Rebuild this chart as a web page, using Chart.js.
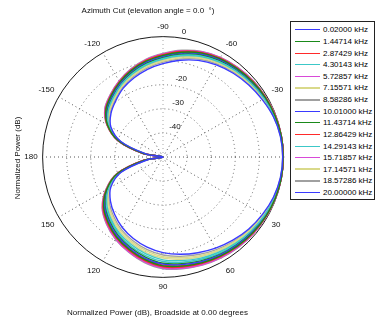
<!DOCTYPE html>
<html>
<head>
<meta charset="utf-8">
<script src="https://cdn.jsdelivr.net/npm/chart.js@4.4.1/dist/chart.umd.min.js"></script>
<style>
  html, body { margin: 0; padding: 0; background: #fff; }
  #wrap { position: relative; width: 375px; height: 324px; }
  #legend {
    position: absolute; left: 290px; top: 21px; width: 85px; height: 179px;
    box-sizing: border-box; border: 1px solid #222; background: #fff; padding-top: 2px;
    font: 8px "Liberation Sans", Arial, sans-serif; color: #000;
  }
  #legend .item { display: flex; align-items: center; height: 11.64px; }
  #legend .swatch { display: inline-block; width: 25px; margin-left: 4px; margin-right: 3px; }
</style>
</head>
<body>
<div id="wrap">
  <canvas id="polarChart" width="375" height="324"></canvas>
  <div id="legend"></div>
</div>
<script>
// azimuth angles (deg), clockwise starting at the top of the plot
const angles = [-90, -80, -70, -60, -50, -40, -30, -20, -10, 0, 10, 20, 30, 40, 50, 60, 70, 80, 90,
  100, 110, 120, 130, 140, 150, 160, 170, 180, -170, -160, -150, -140, -130, -120, -110, -100];

const ringTicks = [0, -10, -20, -30, -40];

const freqLabels = ['0.02000 kHz', '1.44714 kHz', '2.87429 kHz', '4.30143 kHz', '5.72857 kHz',
  '7.15571 kHz', '8.58286 kHz', '10.01000 kHz', '11.43714 kHz', '12.86429 kHz',
  '14.29143 kHz', '15.71857 kHz', '17.14571 kHz', '18.57286 kHz', '20.00000 kHz'];

// normalized power (dB) per frequency, same order as angles
const k0_02000 = [-11.2, -9.2, -7.3, -5.8, -4.6, -3.5, -2.4, -1.2, -0.5, -0.3, -0.5, -1.2, -2.3, -3.5, -4.9, -6.3, -7.7, -9.0, -10.3,
  -12.0, -14.0, -16.2, -18.8, -21.5, -25.0, -31.5, -43.5, -50, -43.0, -31.5, -25.0, -21.8, -19.5, -17.0, -15.0, -13.0];
const k1_44714 = [-7.8, -5.8, -4.0, -2.8, -2.1, -1.4, -0.8, -0.4, -0.1, -0.1, -0.1, -0.3, -0.7, -1.2, -1.8, -2.5, -3.2, -4.0, -4.8,
  -6.7, -9.1, -11.5, -14.5, -17.8, -23.0, -29.9, -41.9, -50, -41.8, -30.3, -23.4, -19.1, -16.6, -14.1, -11.7, -9.6];
const k2_87429 = [-7.5, -5.5, -3.8, -2.6, -1.9, -1.2, -0.7, -0.3, -0.1, 0, -0.1, -0.3, -0.6, -1.0, -1.6, -2.2, -2.9, -3.6, -4.4,
  -6.3, -8.7, -11.2, -14.1, -17.5, -22.8, -29.7, -41.7, -50, -41.7, -30.2, -23.2, -18.9, -16.4, -13.9, -11.5, -9.3];
const k4_30143 = [-9.3, -7.3, -5.5, -4.2, -3.2, -2.3, -1.5, -0.8, -0.3, -0.2, -0.3, -0.7, -1.4, -2.2, -3.2, -4.2, -5.2, -6.3, -7.3,
  -9.1, -11.3, -13.6, -16.4, -19.5, -23.9, -30.6, -42.6, -50, -42.3, -30.8, -24.1, -20.3, -17.9, -15.4, -13.2, -11.1];
const k5_72857 = [-7.2, -5.2, -3.5, -2.3, -1.6, -1.0, -0.6, -0.2, -0.1, 0, -0.1, -0.2, -0.5, -0.8, -1.3, -1.8, -2.4, -3.1, -3.9,
  -5.8, -8.2, -10.7, -13.7, -17.2, -22.6, -29.6, -41.6, -50, -41.6, -30.1, -23.1, -18.6, -16.1, -13.6, -11.2, -9.0];
const k7_15571 = [-9.7, -7.7, -5.9, -4.5, -3.5, -2.6, -1.7, -0.9, -0.3, -0.2, -0.3, -0.8, -1.6, -2.5, -3.6, -4.7, -5.8, -6.9, -8.0,
  -9.7, -11.9, -14.2, -16.9, -19.9, -24.1, -30.8, -42.8, -50, -42.5, -31.0, -24.3, -20.6, -18.3, -15.8, -13.6, -11.5];
const k8_58286 = [-7.0, -5.0, -3.3, -2.2, -1.5, -0.9, -0.5, -0.2, -0.1, 0, -0.1, -0.2, -0.4, -0.7, -1.1, -1.6, -2.2, -2.9, -3.6,
  -5.5, -8.0, -10.5, -13.5, -17.0, -22.5, -29.5, -41.5, -50, -41.5, -30.0, -23.0, -18.5, -16.0, -13.5, -11.0, -8.8];
const k10_01000 = [-8.2, -6.2, -4.4, -3.2, -2.4, -1.6, -1.0, -0.5, -0.2, -0.1, -0.2, -0.4, -0.9, -1.5, -2.2, -2.9, -3.7, -4.6, -5.5,
  -7.3, -9.7, -12.1, -15.0, -18.3, -23.2, -30.1, -42.1, -50, -41.9, -30.4, -23.6, -19.4, -17.0, -14.5, -12.1, -10.0];
const k11_43714 = [-8.5, -6.5, -4.7, -3.5, -2.6, -1.8, -1.2, -0.6, -0.2, -0.1, -0.2, -0.5, -1.1, -1.7, -2.4, -3.2, -4.1, -5.0, -5.9,
  -7.8, -10.1, -12.5, -15.4, -18.6, -23.4, -30.2, -42.2, -50, -42.0, -30.5, -23.7, -19.7, -17.2, -14.7, -12.4, -10.3];
const k12_86429 = [-7.9, -5.9, -4.2, -3.0, -2.2, -1.5, -0.9, -0.4, -0.1, -0.1, -0.1, -0.4, -0.8, -1.3, -1.9, -2.6, -3.4, -4.2, -5.1,
  -6.9, -9.3, -11.8, -14.7, -18.0, -23.1, -29.9, -41.9, -50, -41.8, -30.3, -23.4, -19.2, -16.8, -14.3, -11.9, -9.7];
const k14_29143 = [-8.9, -6.9, -5.1, -3.8, -2.9, -2.1, -1.4, -0.7, -0.3, -0.1, -0.3, -0.6, -1.3, -2.0, -2.8, -3.7, -4.7, -5.6, -6.6,
  -8.4, -10.7, -13.1, -15.9, -19.0, -23.6, -30.4, -42.4, -50, -42.2, -30.7, -23.9, -20.0, -17.6, -15.1, -12.8, -10.7];
const k15_71857 = [-7.3, -5.3, -3.6, -2.5, -1.7, -1.1, -0.7, -0.3, -0.1, 0, -0.1, -0.2, -0.6, -0.9, -1.4, -2.0, -2.6, -3.4, -4.1,
  -6.0, -8.5, -11.0, -13.9, -17.4, -22.7, -29.7, -41.7, -50, -41.6, -30.1, -23.2, -18.8, -16.3, -13.8, -11.3, -9.1];
const k17_14571 = [-10.2, -8.2, -6.3, -4.9, -3.8, -2.9, -1.9, -1.0, -0.4, -0.2, -0.4, -0.9, -1.8, -2.8, -4.0, -5.1, -6.3, -7.5, -8.6,
  -10.4, -12.5, -14.8, -17.5, -20.4, -24.4, -31.0, -43.0, -50, -42.6, -31.1, -24.5, -21.0, -18.6, -16.1, -14.0, -12.0];
const k18_57286 = [-10.6, -8.6, -6.7, -5.3, -4.1, -3.1, -2.1, -1.1, -0.4, -0.3, -0.4, -1.0, -2.0, -3.1, -4.3, -5.6, -6.9, -8.1, -9.3,
  -11.0, -13.1, -15.3, -18.0, -20.8, -24.6, -31.2, -43.2, -50, -42.8, -31.3, -24.7, -21.3, -19.0, -16.5, -14.4, -12.4];
const k20_00000 = [-7.6, -5.6, -3.9, -2.7, -2.0, -1.3, -0.8, -0.4, -0.1, 0, -0.1, -0.3, -0.7, -1.1, -1.7, -2.3, -3.0, -3.8, -4.6,
  -6.5, -8.9, -11.4, -14.3, -17.7, -22.9, -29.8, -41.8, -50, -41.7, -30.2, -23.3, -19.0, -16.5, -14.0, -11.6, -9.4];

const seriesData = [k0_02000, k1_44714, k2_87429, k4_30143, k5_72857, k7_15571, k8_58286, k10_01000,
  k11_43714, k12_86429, k14_29143, k15_71857, k17_14571, k18_57286, k20_00000];

// MATLAB-like colour cycle: b g r c m y k
const lineColors = ['#3a3aff', '#1a8a1a', '#ff2a2a', '#3cc8c8', '#d84ad8', '#d9d98a', '#a0a0a0'];
const legendLineHeights = [1, 1, 1, 1, 1, 2, 2];

const FONT = '"Liberation Sans", Arial, sans-serif';

const htmlLegend = {
    id: 'htmlLegend',
    afterUpdate(chart) {
        const box = document.getElementById('legend');
        box.innerHTML = '';
        chart.data.datasets.forEach((ds, i) => {
            const row = document.createElement('div');
            row.className = 'item';
            const sw = document.createElement('span');
            sw.className = 'swatch';
            sw.style.background = ds.borderColor;
            sw.style.height = legendLineHeights[i % 7] + 'px';
            const txt = document.createElement('span');
            txt.textContent = ds.label;
            row.appendChild(sw);
            row.appendChild(txt);
            box.appendChild(row);
        });
    }
};

// ring labels plus axis texts, placed from the radial scale
const axisText = {
    id: 'axisText',
    beforeDatasetsDraw(chart) {
        const r = chart.scales.r;
        const ctx = chart.ctx;
        const R = r.drawingArea;
        ctx.save();
        ctx.font = '8px ' + FONT;
        ctx.fillStyle = '#111';

        ctx.textAlign = 'left';
        ctx.textBaseline = 'alphabetic';
        const a = 7.5 * Math.PI / 180;
        ringTicks.forEach(v => {
            const d = r.getDistanceFromCenterForValue(v);
            ctx.fillText(String(v), r.xCenter + d * Math.sin(a) + 3, r.yCenter - d * Math.cos(a) - 4);
        });

        ctx.textAlign = 'center';
        ctx.textBaseline = 'middle';
        ctx.fillText('Azimuth Cut (elevation angle = 0.0  \u00b0)', r.xCenter - 15, r.yCenter - R - 26);
        ctx.fillText('Normalized Power (dB), Broadside at 0.00 degrees', r.xCenter - 5.5, r.yCenter + R + 35.5);

        ctx.translate(r.xCenter - R - 24.5, r.yCenter + 1);
        ctx.rotate(-Math.PI / 2);
        ctx.fillText('Normalized Power (dB)', 0, 0);
        ctx.restore();
    }
};

const datasets = seriesData.map((d, i) => ({
    label: freqLabels[i],
    data: d,
    borderColor: lineColors[i % 7],
    borderWidth: 1.4,
    fill: false,
    pointRadius: 0,
    tension: 0.3
}));

new Chart(document.getElementById('polarChart').getContext('2d'), {
    type: 'radar',
    data: { labels: angles, datasets: datasets },
    options: {
        responsive: false,
        animation: false,
        devicePixelRatio: 1,
        layout: { padding: { left: 18, top: 23, right: 79, bottom: 31 } },
        plugins: {
            legend: { display: false },
            title: { display: false },
            tooltip: { enabled: false }
        },
        scales: {
            r: {
                min: -50,
                max: 0,
                startAngle: 0,
                ticks: { display: false, stepSize: 10 },
                grid: {
                    circular: true,
                    color: (c) => c.tick && c.tick.value === 0 ? '#1a1a1a' : '#666',
                    lineWidth: 1
                },
                border: {
                    dash: (c) => c.tick && c.tick.value === 0 ? [] : [1, 3]
                },
                angleLines: {
                    color: (c) => (angles[c.index] === -90 || angles[c.index] === 90) ? '#a8a8a8' : '#555',
                    lineWidth: (c) => angles[c.index] % 30 === 0 ? 1 : 0,
                    borderDash: [1, 3]
                },
                pointLabels: {
                    color: '#111',
                    padding: 5,
                    font: { family: FONT, size: 8, lineHeight: 1.2 },
                    callback: (v) => (v % 30 === 0 && v !== 0) ? String(v) : ''
                }
            }
        }
    },
    plugins: [htmlLegend, axisText]
});
</script>
</body>
</html>
